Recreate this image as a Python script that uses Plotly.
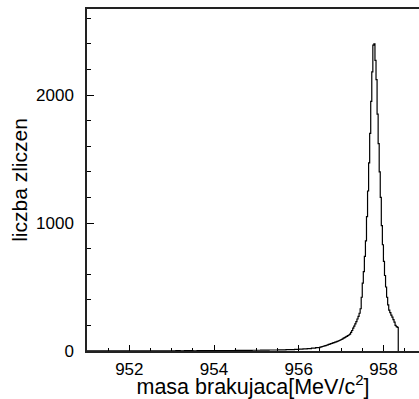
import numpy as np
import plotly.graph_objects as go

# Histogram of missing mass. Tail: 0.1 MeV/c^2 bins from 951.0 to 956.5;
# peak region: 0.025 MeV/c^2 bins from 956.5 to 958.35.
tail_start, tail_width = 951.0, 0.1
tail_counts = (
    [1, 1, 1, 1, 1, 1, 2, 1, 1, 2, 1, 2, 2, 1, 2, 2, 2, 2, 2, 2,
     2, 3, 2, 3, 3, 2, 3, 3, 3, 3]
    + [3, 4, 4, 4, 4, 5, 5, 5, 5, 6]
    + [6, 7, 7, 8, 8, 9, 9, 10, 11, 12]
    + [14, 16, 19, 22, 26]
)
peak_start, peak_width = 956.5, 0.025
peak_counts = [
    31, 33, 35, 37, 40, 42, 45, 48, 51, 54, 57, 60, 63, 66, 69, 72, 75, 78, 82, 86,
    90, 95, 100, 105, 110, 115, 120, 125, 132, 145, 160, 178, 195, 212, 230, 250,
    270, 295, 330, 420, 530, 620, 740, 860, 1050, 1250, 1470, 1700, 1950, 2180,
    2390, 2400, 2270, 2120, 1850, 1620, 1400, 1200, 980, 830, 700, 590, 500, 420,
    360, 320, 300, 280, 265, 245, 225, 200, 190, 185,
]
x_tick_vals = [952, 954, 956, 958]
y_tick_vals = [0, 1000, 2000]
x_title = "masa brakujaca[MeV/c<sup>2</sup>]"
y_title = "liczba zliczen"

edges = np.concatenate([
    tail_start + tail_width * np.arange(len(tail_counts)),
    peak_start + peak_width * np.arange(len(peak_counts) + 1),
])
ys = list(tail_counts) + list(peak_counts) + [0]

fig = go.Figure()
fig.add_trace(go.Scatter(
    x=edges, y=ys, mode="lines", line=dict(shape="hv", color="black", width=1.2),
    showlegend=False, hoverinfo="skip"))

font = "Liberation Sans, Arial, sans-serif"
fig.update_layout(
    width=419, height=399,
    margin=dict(l=87, r=0, t=9, b=48),
    paper_bgcolor="white", plot_bgcolor="white",
    font=dict(family=font, color="black"),
)
fig.update_xaxes(
    range=[951.0, 958.84], tickvals=x_tick_vals, ticktext=[str(v) for v in x_tick_vals],
    ticks="inside", ticklen=6, tickwidth=1, tickcolor="black",
    minor=dict(dtick=0.5, tick0=951, ticks="inside", ticklen=3, tickcolor="black", showgrid=False),
    showgrid=False, zeroline=False, showline=True, linecolor="#222", linewidth=1.5, mirror=True,
    tickfont=dict(size=17), ticklabelstandoff=2,
    title=dict(text=x_title, font=dict(size=21.5), standoff=0),
)
fig.update_yaxes(
    range=[0, 2672], tickvals=y_tick_vals, ticktext=[str(v) for v in y_tick_vals],
    ticks="inside", ticklen=7, tickwidth=1, tickcolor="black",
    minor=dict(dtick=200, tick0=0, ticks="inside", ticklen=4, tickcolor="black", showgrid=False),
    showgrid=False, zeroline=False, showline=True, linecolor="#222", linewidth=1.5, mirror=False,
    tickfont=dict(size=17), ticklabelstandoff=8,
    title=dict(text=y_title, font=dict(size=21), standoff=3),
)
fig.write_html("out.html")
